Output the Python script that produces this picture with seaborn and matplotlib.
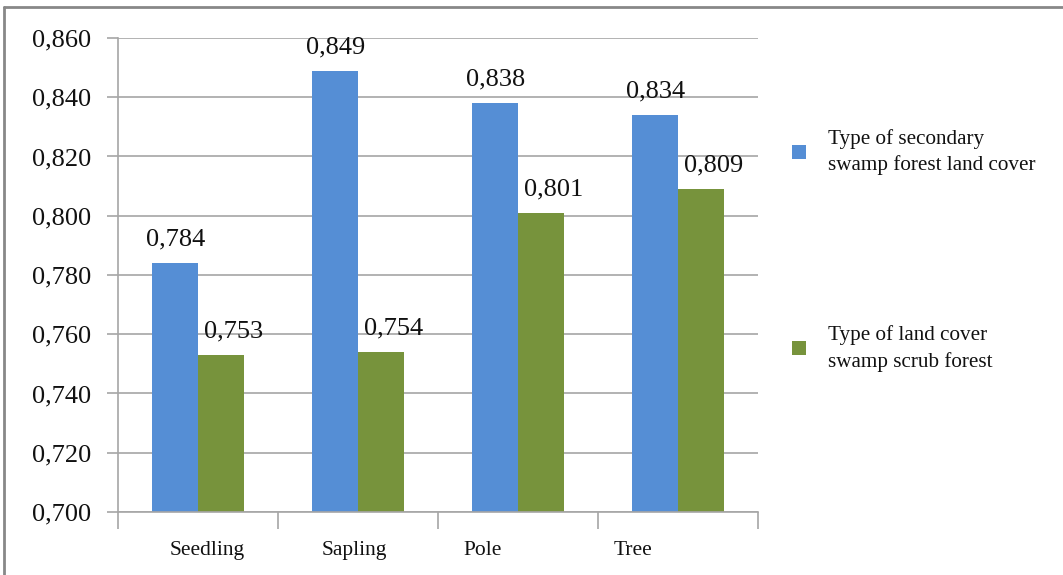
import matplotlib
matplotlib.use("Agg")
import matplotlib.pyplot as plt
import matplotlib.patches as mpatches
import seaborn as sns
import pandas as pd
import numpy as np

categories = ["Seedling", "Sapling", "Pole", "Tree"]
secondary_swamp = [0.784, 0.849, 0.838, 0.834]
swamp_scrub = [0.753, 0.754, 0.801, 0.809]
series_names = ["Type of secondary\nswamp forest land cover",
                "Type of land cover\nswamp scrub forest"]
y_ticks = [0.700, 0.720, 0.740, 0.760, 0.780, 0.800, 0.820, 0.840, 0.860]
label_shift = [0.06, -0.02, -0.22, -0.28]

colors = ["#558ED5", "#77933C"]

df = pd.DataFrame({
    "stage": categories * 2,
    "value": secondary_swamp + swamp_scrub,
    "series": [series_names[0]] * 4 + [series_names[1]] * 4,
})

sns.set_theme(style="white")
plt.rcParams["font.family"] = ["Liberation Serif", "DejaVu Serif"]

fig = plt.figure(figsize=(10.63, 5.75), dpi=100)
ax = fig.add_axes([0.111, 0.1096, 0.602, 0.8244])

sns.barplot(data=df, x="stage", y="value", hue="series", order=categories,
            hue_order=series_names, palette=colors, width=0.57, saturation=1,
            errorbar=None, legend=False, ax=ax, linewidth=0)

def fmt(v):
    return f"{v:.3f}".replace(".", ",")

# value labels; the second series' labels sit a little to the right
for cont, vals, dx in zip(ax.containers, [secondary_swamp, swamp_scrub], [0, 9]):
    texts = ax.bar_label(cont, labels=[fmt(v) for v in vals], padding=9,
                         fontsize=19, color="#111111")
    for t in texts:
        x0, y0 = t.xyann
        t.xyann = (x0 + dx, y0)

ax.set_ylim(0.700, 0.860)
ax.set_xlim(-0.5, 3.5)
ax.set_yticks(y_ticks)
ax.set_yticklabels([fmt(v) for v in y_ticks], fontsize=19, color="#111111")
ax.yaxis.grid(True, color="#a6a6a6", linewidth=1.2)
ax.set_axisbelow(True)

ax.set_xticks(np.arange(len(categories)) + np.array(label_shift))
ax.set_xticklabels(categories, fontsize=15.5, color="#111111")
ax.set_xticks(np.arange(-0.5, len(categories)), minor=True)
ax.tick_params(axis="x", which="major", length=0, pad=21)
ax.tick_params(axis="x", which="minor", length=12, width=1.2, color="#a6a6a6",
               direction="out", bottom=True)
ax.tick_params(axis="y", length=8, width=1.2, color="#a6a6a6", left=True,
               direction="out", pad=11)
ax.set_xlabel("")
ax.set_ylabel("")

for side in ["top", "right"]:
    ax.spines[side].set_visible(False)
for side in ["left", "bottom"]:
    ax.spines[side].set_color("#a6a6a6")
    ax.spines[side].set_linewidth(1.2)

handles = [mpatches.Patch(facecolor=c, edgecolor="none") for c in colors]
leg = fig.legend(handles, series_names, loc="upper left",
                 bbox_to_anchor=(0.727, 0.809), frameon=False, fontsize=15.2,
                 handlelength=0.65, handleheight=0.65, handletextpad=1.05,
                 labelspacing=7.1, labelcolor="#111111")
for t in leg.get_texts():
    t.set_linespacing(1.45)

# outer frame along the top and left edges
fig.add_artist(plt.Line2D([0.004, 1.0], [0.988, 0.988], color="#888888",
                          linewidth=2, transform=fig.transFigure))
fig.add_artist(plt.Line2D([0.004, 0.004], [0.0, 0.988], color="#888888",
                          linewidth=2, transform=fig.transFigure))

fig.savefig("out.png", dpi=100)
